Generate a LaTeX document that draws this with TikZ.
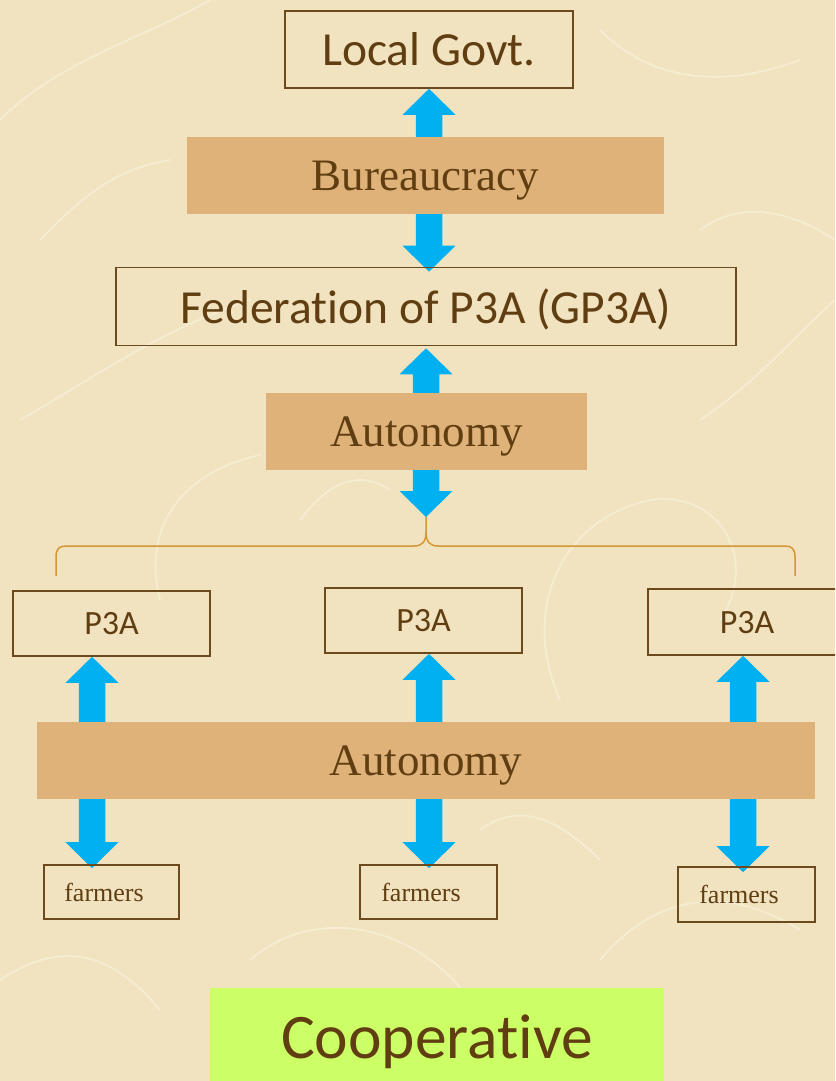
\documentclass[tikz,border=0pt]{standalone}
\usepackage{fontspec}
\usetikzlibrary{calc}
\newfontfamily\labelsans{Carlito}[Ligatures=NoCommon]
\newfontfamily\labelserif{Liberation Serif}

\definecolor{paper}{RGB}{241,227,192}
\definecolor{fiber}{RGB}{253,248,234}
\definecolor{ink}{RGB}{96,62,18}
\definecolor{frame}{RGB}{108,74,30}
\definecolor{tan}{RGB}{223,178,121}
\definecolor{flowblue}{RGB}{0,176,240}
\definecolor{bracecol}{RGB}{214,150,52}
\definecolor{lime}{RGB}{204,255,102}

\pgfdeclarelayer{paperlayer}
\pgfdeclarelayer{flowlayer}
\pgfsetlayers{paperlayer,flowlayer,main}

% two-headed block arrow from point #1 (top tip) down to point #2 (bottom tip),
% the bottom tip pushed #3 further down
\newcommand\flowarrow[3]{%
  \fill[flowblue] let \p1=#1, \p2=#2 in
    (\x1,\y1) -- (\x1+26.5pt,\y1-26pt) -- (\x1+13.25pt,\y1-26pt)
    -- (\x1+13.25pt,\y2-#3+26pt) -- (\x1+26.5pt,\y2-#3+26pt) -- (\x1,\y2-#3)
    -- (\x1-26.5pt,\y2-#3+26pt) -- (\x1-13.25pt,\y2-#3+26pt)
    -- (\x1-13.25pt,\y1-26pt) -- (\x1-26.5pt,\y1-26pt) -- cycle;}

\tikzset{
  outlined/.style={draw=frame, line width=1.6pt, inner sep=0pt, text=ink, text depth=0pt},
  bigsans/.style={font=\labelsans\fontsize{47.5}{52}\selectfont},
  midsans/.style={font=\labelsans\fontsize{34}{38}\selectfont},
  smallserif/.style={font=\labelserif\fontsize{26}{29}\selectfont},
  banner/.style={fill=tan, inner sep=0pt, text=ink, text depth=0pt,
    font=\labelserif\fontsize{45}{50}\selectfont, minimum height=77pt},
  fiberline/.style={fiber, line width=1.8pt, opacity=0.45, line cap=round},
}

\begin{document}
\begin{tikzpicture}[x=1pt, y=-1pt]
  \clip (0,0) rectangle (835,1081);

  % paper background with a few light fibres
  \begin{pgfonlayer}{paperlayer}
    \fill[paper] (0,0) rectangle (835,1081);
    \draw[fiberline] (0,120) .. controls (60,60) and (140,40) .. (210,0);
    \draw[fiberline] (20,420) .. controls (90,380) and (160,330) .. (250,300);
    \draw[fiberline] (160,600) .. controls (140,520) and (190,470) .. (260,455);
    \draw[fiberline] (560,700) .. controls (520,610) and (560,520) .. (650,500);
    \draw[fiberline] (650,500) .. controls (720,490) and (760,560) .. (720,620);
    \draw[fiberline] (700,420) .. controls (760,380) and (800,330) .. (835,300);
    \draw[fiberline] (600,30) .. controls (650,80) and (720,90) .. (800,60);
    \draw[fiberline] (40,240) .. controls (80,200) and (110,170) .. (170,160);
    \draw[fiberline] (250,960) .. controls (320,900) and (420,930) .. (470,1000);
    \draw[fiberline] (600,960) .. controls (650,900) and (720,880) .. (800,930);
    \draw[fiberline] (0,980) .. controls (60,940) and (110,950) .. (160,1010);
    \draw[fiberline] (700,230) .. controls (740,200) and (790,210) .. (835,240);
    \draw[fiberline] (300,520) .. controls (330,480) and (360,470) .. (390,490);
    \draw[fiberline] (480,830) .. controls (520,800) and (560,820) .. (600,860);
  \end{pgfonlayer}

  % upper chain
  \node[outlined, bigsans, minimum width=288pt, minimum height=77pt] (lg) at (429,49.5) {Local Govt.};
  \node[banner, minimum width=477pt] (bur) at (425.5,175.5) {Bureaucracy};
  \node[outlined, bigsans, minimum width=620pt, minimum height=78pt] (fed) at (426,306.5) {Federation of P3A (GP3A)};
  \node[banner, minimum width=321pt] (aut1) at (426.5,431.5) {Autonomy};

  % brace gathering the associations
  \coordinate (bt) at (426,517);
  \draw[bracecol, line width=1.5pt]
    (56,576) -- (56,557) .. controls (56,549) and (59,546) .. (66,546) -- (414,546)
    .. controls (422,546) and (426,542) .. (426,532) -- (bt);
  \draw[bracecol, line width=1.5pt]
    (795,576) -- (795,557) .. controls (795,549) and (792,546) .. (785,546) -- (438,546)
    .. controls (430,546) and (426,542) .. (426,532);

  % associations
  \node[outlined, midsans, minimum width=197pt, minimum height=65pt] (p3l) at (111.5,623.5) {P3A};
  \node[outlined, midsans, minimum width=197pt, minimum height=65pt] (p3m) at (423.5,620.5) {P3A};
  \node[outlined, midsans, minimum width=198pt, minimum height=66pt] (p3r) at (747,622) {P3A};

  \node[banner, minimum width=778pt] (aut2) at (426,760.5) {Autonomy};

  % farmer groups
  \node[outlined, smallserif, minimum width=135pt, minimum height=54pt] (fl) at (111.5,892) {farmers\kern15pt};
  \node[outlined, smallserif, minimum width=137pt, minimum height=54pt] (fm) at (428.5,892) {farmers\kern15pt};
  \node[outlined, smallserif, minimum width=137pt, minimum height=55pt] (fr) at (746.5,894.5) {farmers\kern15pt};

  \node[fill=lime, inner sep=0pt, text=ink, text depth=0pt, minimum width=454pt, minimum height=98pt,
        font=\labelsans\fontsize{63.5}{68}\selectfont] (coop) at (437,1037) {Cooperative};

  % block arrows
  \coordinate (ax1) at (92,0);
  \coordinate (ax2) at (429,0);
  \coordinate (ax3) at (743,0);
  \begin{pgfonlayer}{flowlayer}
    \flowarrow{(lg.south)}{(lg.south |- fed.north)}{5pt}
    \flowarrow{([yshift=-2pt]bt |- fed.south)}{(bt)}{0pt}
    \flowarrow{(ax1 |- p3l.south)}{(ax1 |- fl.north)}{4pt}
    \flowarrow{(ax2 |- p3m.south)}{(ax2 |- fm.north)}{4pt}
    \flowarrow{(ax3 |- p3r.south)}{(ax3 |- fr.north)}{6pt}
  \end{pgfonlayer}
\end{tikzpicture}
\end{document}
